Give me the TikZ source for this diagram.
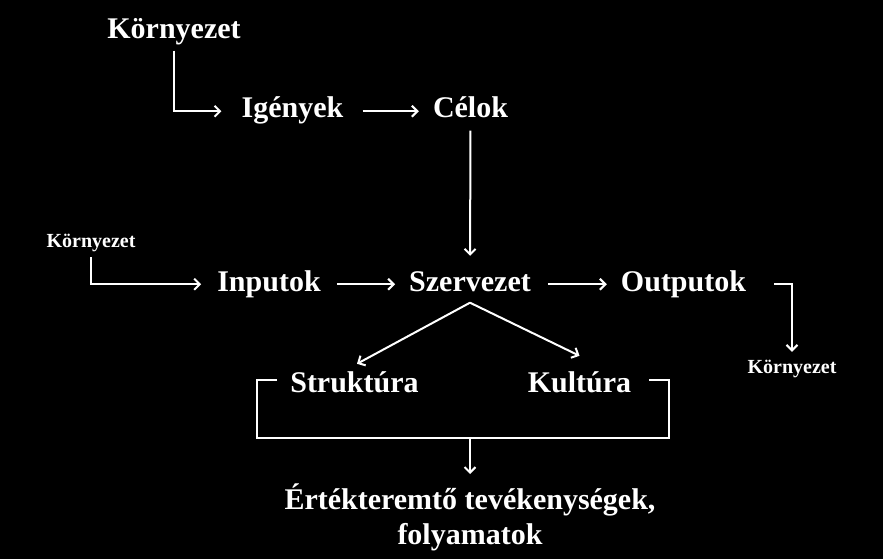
\documentclass[tikz,border=0pt]{standalone}
\usepackage{fontspec}
\setmainfont{Liberation Serif}
\usetikzlibrary{arrows.meta,calc}
\begin{document}
\begin{tikzpicture}[x=1pt,y=-1pt,
  big/.style={text=white,inner sep=0pt,font=\fontsize{30}{35}\selectfont\bfseries,text height=21pt,text depth=7.5pt,anchor=base},
  small/.style={text=white,inner sep=0pt,font=\fontsize{20}{24}\selectfont\bfseries,text height=14pt,text depth=5pt,anchor=base},
  conn/.style={draw=white,line width=2pt,-{Straight Barb[length=5.5pt,width=11pt]}},
  plain/.style={draw=white,line width=2pt}]
\fill[black] (0,0) rectangle (883,559);
\useasboundingbox (0,0) rectangle (883,559);
% nodes
\node[big] (k1) at (174,39) {Környezet};
\node[big] (ig) at (292.5,118) {Igények};
\node[big] (ce) at (470.5,118) {Célok};
\node[small] (k2) at (91,247) {Környezet};
\node[big] (in) at (269,291) {Inputok};
\node[big] (sz) at (470,291) {Szervezet};
\node[big] (ou) at (683.5,291) {Outputok};
\node[small] (k3) at (792,373) {Környezet};
\node[big] (st) at (354.5,392) {Struktúra};
\node[big] (ku) at (579.5,392) {Kultúra};
\node[text=white,inner sep=0pt,font=\fontsize{30}{35}\selectfont\bfseries,align=center,anchor=north] (er) at (470,484) {Értékteremtő tevékenységek,\\folyamatok};
\coordinate (ap) at ([yshift=-4pt]sz.south);
% connectors
\draw[conn,shorten <=4pt,shorten >=20pt] (k1.south) |- (ig.west);
\draw[conn,shorten <=19pt,shorten >=14pt] (ig.east) -- (ce.west);
\draw[conn,shorten <=5pt,shorten >=14pt] (ce.south) -- (sz.north);
\draw[conn,shorten <=5pt,shorten >=16pt] (k2.south) |- (in.west);
\draw[conn,shorten <=16pt,shorten >=14pt] (in.east) -- (sz.west);
\draw[conn,shorten <=17pt,shorten >=14pt] (sz.east) -- (ou.west);
\draw[conn,shorten <=28pt,shorten >=7pt] (ou.east) -| (k3.north);
\draw[conn] (ap) -- ([xshift=2.5pt,yshift=7pt]st.north);
\draw[conn] (ap) -- ([yshift=15pt]ku.north);
\draw[plain] ([shift={(-13,-5)}]st.west) -- ++(-20,0) -- ++(0,58) coordinate (bl) -- ++(412,0) coordinate (br) -- ++(0,-58) -- ++(-20,0) coordinate (bk);
\draw[conn,shorten >=10pt] (er.north |- bl) -- (er.north);
\end{tikzpicture}
\end{document}
